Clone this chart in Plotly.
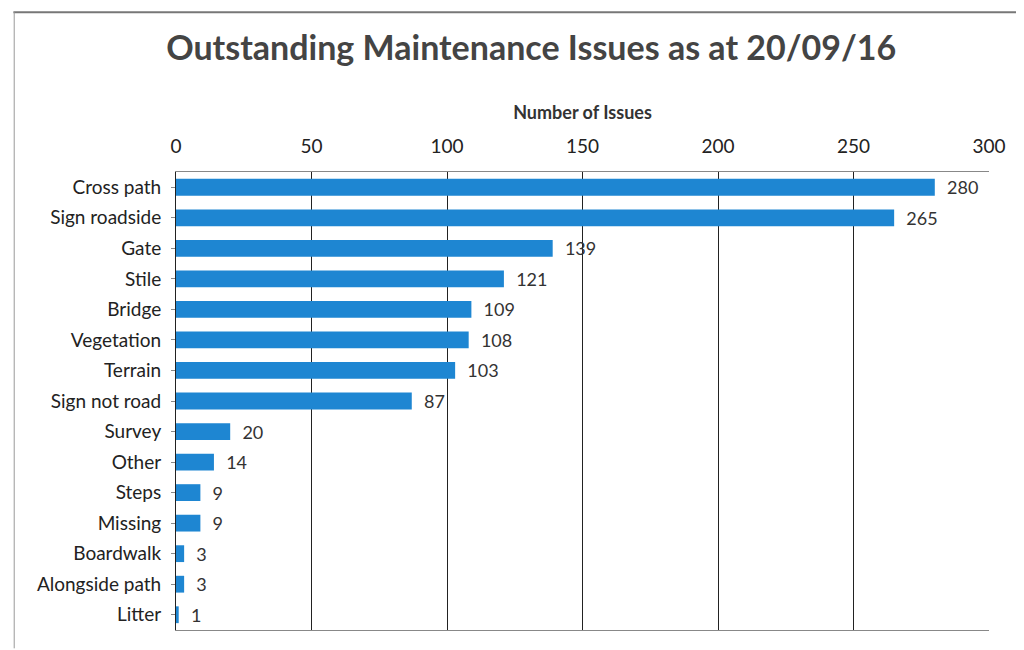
import plotly.graph_objects as go

categories = ["Cross path", "Sign roadside", "Gate", "Stile", "Bridge", "Vegetation",
              "Terrain", "Sign not road", "Survey", "Other", "Steps", "Missing",
              "Boardwalk", "Alongside path", "Litter"]
values = [280, 265, 139, 121, 109, 108, 103, 87, 20, 14, 9, 9, 3, 3, 1]
tick_vals = [0, 50, 100, 150, 200, 250, 300]

font_family = "Lato, 'Open Sans', sans-serif"

fig = go.Figure(go.Bar(
    y=categories, x=values, orientation="h",
    marker=dict(color="#1e86d2", line=dict(width=0)),
    width=0.55,
    text=["  " + str(v) for v in values], textposition="outside",
    textfont=dict(size=18, color="#333333", family=font_family),
    constraintext="none",
    cliponaxis=False,
))

fig.update_layout(
    width=1016, height=642,
    paper_bgcolor="white", plot_bgcolor="white",
    margin=dict(l=168, r=35, t=164, b=20),
    title=dict(text="<b>Outstanding Maintenance Issues as at 20/09/16</b>",
               x=0.515, xanchor="center", y=0.937, yanchor="middle",
               font=dict(size=34, color="#444444", family=font_family)),
    font=dict(family=font_family, color="#333333"),
    showlegend=False,
)

fig.update_xaxes(
    side="top", range=[0, 300], tickvals=tick_vals,
    tickfont=dict(size=19, color="#222222"),
    title=dict(text="<b>Number of Issues</b>", font=dict(size=18, color="#333333"), standoff=10),
    showgrid=True, gridcolor="#222222", gridwidth=1,
    showline=True, linecolor="#888888", mirror=True, linewidth=1,
    zeroline=False, ticks="", ticklabelstandoff=10,
)
fig.update_yaxes(
    autorange="reversed", tickfont=dict(size=19, color="#222222"),
    showline=True, linecolor="#222222", linewidth=1,
    ticks="outside", ticklen=4, tickcolor="#888888", ticklabelstandoff=6,
)

# outer chart frame edges (scanned border)
fig.add_shape(type="line", xref="paper", yref="paper",
              x0=-0.2, x1=1.05, y0=1.349, y1=1.349,
              line=dict(color="#777777", width=2))
fig.add_shape(type="line", xref="paper", yref="paper",
              x0=-0.199, x1=-0.199, y0=-0.04, y1=1.349,
              line=dict(color="#999999", width=1))

fig.write_html("out.html")
